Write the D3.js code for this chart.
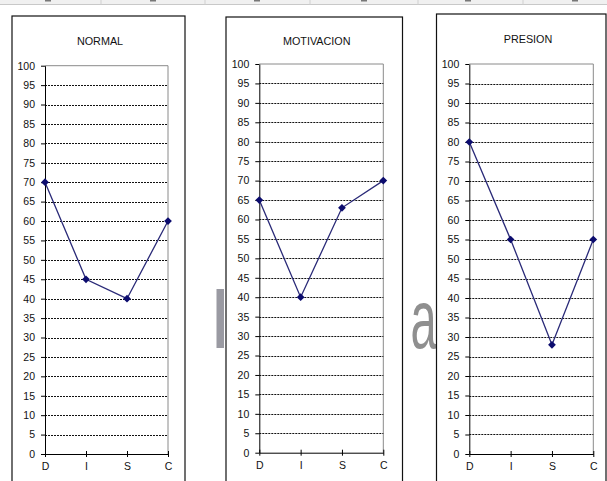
<!DOCTYPE html>
<html><head><meta charset="utf-8">
<script src="https://cdn.jsdelivr.net/npm/d3@7"></script>
<style>
html,body{margin:0;padding:0;background:#fff;}
svg{display:block;font-family:"Liberation Sans",Arial,sans-serif;}
</style></head>
<body>
<svg id="c" width="607" height="481"></svg>
<script>
// ---- data ----
const categories = ["D", "I", "S", "C"];
const yTicks = [0,5,10,15,20,25,30,35,40,45,50,55,60,65,70,75,80,85,90,95,100];
const titles = ["NORMAL", "MOTIVACION", "PRESION"];
const normalValues = [70, 45, 40, 60];
const motivacionValues = [65, 40, 63, 70];
const presionValues = [80, 55, 28, 55];
const seriesList = [normalValues, motivacionValues, presionValues];

// ---- layout ----
const panels = [
  {bx0: 12,  bx1: 185, by: 16, px0: 45,    px1: 168,   py100: 65.7, py0: 454,   tx: 100,  ty: 45},
  {bx0: 226, bx1: 402.5, by: 17, px0: 259.3, px1: 383.3, py100: 64, py0: 452.7, tx: 316.7, ty: 45},
  {bx0: 436.5, bx1: 606, by: 14, px0: 469.3, px1: 593.3, py100: 64, py0: 454,   tx: 528,  ty: 43}
];

const svg = d3.select("#c");

// spreadsheet header strip
svg.append("rect").attr("x",0).attr("y",0).attr("width",607).attr("height",4.5).attr("fill","#f0f0f0");
svg.append("line").attr("x1",0).attr("x2",607).attr("y1",4.5).attr("y2",4.5).attr("stroke","#c8c8c8");
[101,205,310,418,523].forEach(x=>{
  svg.append("line").attr("x1",x).attr("x2",x).attr("y1",0).attr("y2",4.5).attr("stroke","#d0d0d0");
});
[48,153,257,364,468,575].forEach(x=>{
  svg.append("rect").attr("x",x-3).attr("y",0).attr("width",6).attr("height",1.5).attr("fill","#777");
});

// watermark fragments visible between the panels
svg.append("rect").attr("x",216.5).attr("y",289).attr("width",7.5).attr("height",59).attr("fill","#9a9aa2");
svg.append("text").attr("transform","translate(410.5,348) scale(0.56,1)")
  .attr("font-size",84).attr("fill","#8f8f8f").text("a");

panels.forEach((p,i)=>{
  const g = svg.append("g");
  g.append("rect").attr("x",p.bx0).attr("y",p.by).attr("width",p.bx1-p.bx0).attr("height",481-p.by+5)
    .attr("fill","#fff").attr("stroke","#111").attr("stroke-width",1.2);
  g.append("text").attr("x",p.tx).attr("y",p.ty).attr("text-anchor","middle")
    .attr("font-size",10.8).attr("fill","#111").text(titles[i]);

  const x = d3.scalePoint().domain(categories).range([p.px0,p.px1]);
  const y = d3.scaleLinear().domain([0,100]).range([p.py0,p.py100]);

  g.append("path").attr("d",`M${p.px0},${y(100)}H${p.px1}V${y(0)}`)
    .attr("fill","none").attr("stroke","#8a8a8a").attr("stroke-width",1);

  g.selectAll("line.grid").data(yTicks.filter(t=>t>0 && t<100)).join("line")
    .attr("class","grid")
    .attr("x1",p.px0).attr("x2",p.px1)
    .attr("y1",d=>Math.round(y(d))+0.5).attr("y2",d=>Math.round(y(d))+0.5)
    .attr("stroke","#111").attr("stroke-width",1).attr("stroke-dasharray","2,1");

  const ya = g.append("g").attr("transform",`translate(${p.px0},0)`)
    .call(d3.axisLeft(y).tickValues(yTicks).tickSizeInner(4).tickSizeOuter(0).tickPadding(6));
  ya.select(".domain").attr("stroke","#000");
  ya.selectAll(".tick line").attr("stroke","#000");
  ya.selectAll("text").attr("font-size",10.5).attr("fill","#111").attr("font-family","Liberation Sans, Arial, sans-serif");

  const xa = g.append("g").attr("transform",`translate(0,${p.py0})`)
    .call(d3.axisBottom(x).tickSizeInner(3).tickSizeOuter(0).tickPadding(6));
  xa.select(".domain").attr("stroke","#000");
  xa.selectAll(".tick line").attr("y1",-3).attr("y2",3).attr("stroke","#000");
  xa.selectAll("text").attr("font-size",10.5).attr("fill","#111").attr("font-family","Liberation Sans, Arial, sans-serif");

  const vals = seriesList[i];
  const pts = categories.map((c,k)=>({c, v: vals[k]}));
  g.append("path").datum(pts)
    .attr("d", d3.line().x(d=>x(d.c)).y(d=>y(d.v)))
    .attr("fill","none").attr("stroke","#2a2a78").attr("stroke-width",1.3);
  g.selectAll("path.mk").data(pts).join("path")
    .attr("class","mk")
    .attr("d", d3.symbol().type(d3.symbolSquare).size(30))
    .attr("transform", d=>`translate(${x(d.c)},${y(d.v)}) rotate(45)`)
    .attr("fill","#0c0c6e");
});
</script>
</body></html>
